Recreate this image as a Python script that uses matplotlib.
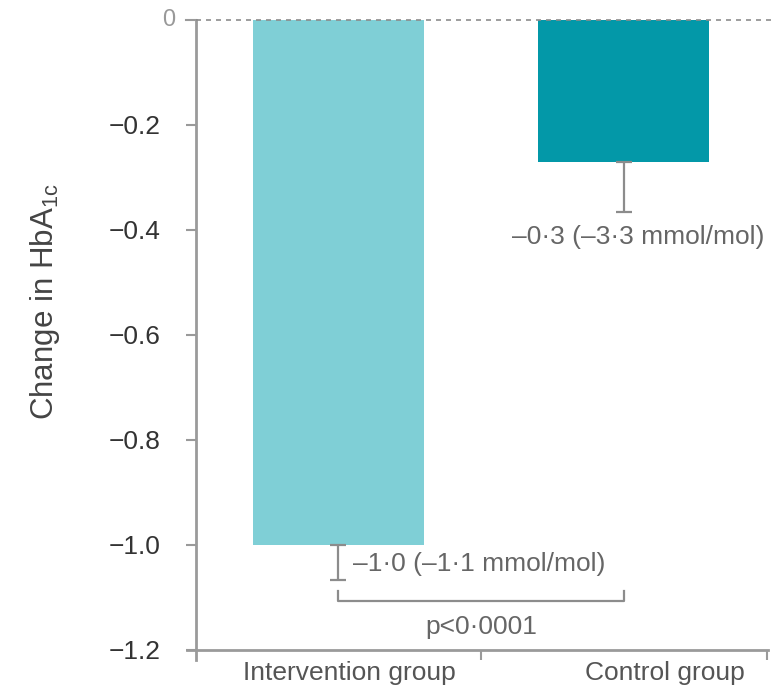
import numpy as np
import matplotlib.pyplot as plt

plt.rcParams.update({
    'font.family': 'Liberation Sans',
    'mathtext.fontset': 'custom',
    'mathtext.rm': 'Liberation Sans',
    'axes.unicode_minus': True,
})

# ---------------------------------------------------------------------------
# Data
# ---------------------------------------------------------------------------
groups     = ['Intervention group', 'Control group']
change     = [-1.0, -0.27]
err_lower  = [0.067, 0.096]
bar_notes  = ['\u20131\u00b70 (\u20131\u00b71 mmol/mol)', '\u20130\u00b73 (\u20133\u00b73 mmol/mol)']
p_label    = 'p<0\u00b70001'
yticks     = [-1.2, -1.0, -0.8, -0.6, -0.4, -0.2]

colours = ['#7fcfd6', '#0398a8']
AXIS_C  = '#9a9a9a'
TEXT_C  = '#666666'

fig = plt.figure(figsize=(7.73, 6.91), dpi=100)
ax = fig.add_axes([187 / 773, 1 - 660 / 691, 581 / 773, 640 / 691])

x = np.arange(len(groups))
ax.bar(x, change, width=0.6, color=colours, zorder=2)
ax.errorbar(x, change, yerr=[err_lower, [0, 0]], fmt='none', ecolor='#8c8c8c',
            elinewidth=1.6, capsize=6, capthick=1.6, zorder=3)

# zero reference line
ax.plot([-0.5, 1.52], [0, 0], ls=(0, (3, 3)), color='#8c8c8c', lw=1.2,
        clip_on=False, zorder=4)

# value notes
ax.text(x[0] + 0.05, change[0] - err_lower[0] / 2 - 0.004, bar_notes[0], ha='left', va='center',
        fontsize=19, color=TEXT_C)
ax.text(x[1] - 0.39, change[1] - err_lower[1] - 0.048, bar_notes[1], ha='left', va='center',
        fontsize=19, color=TEXT_C, clip_on=False)

# significance bracket
yb = -1.107
ax.plot([x[0], x[0], x[1], x[1]], [yb + 0.018, yb, yb, yb + 0.018],
        color='#8c8c8c', lw=1.6, zorder=3)
ax.text((x[0] + x[1]) / 2, yb - 0.05, p_label, ha='center', va='center',
        fontsize=19, color=TEXT_C)

# axes styling
ax.set_xlim(-0.53, 1.505)
ax.set_ylim(-1.22, 0)
for s in ['top', 'right']:
    ax.spines[s].set_visible(False)
ax.spines['left'].set_position(('data', -0.5))
ax.spines['bottom'].set_position(('data', -1.2))
for s in ['left', 'bottom']:
    ax.spines[s].set_color(AXIS_C)
    ax.spines[s].set_linewidth(2)

ax.set_yticks(yticks)
ax.set_yticklabels([f'{v:.1f}'.replace('-', '\u2212') for v in yticks])
ax.tick_params(axis='y', direction='out', length=7, width=1.5, color=AXIS_C,
               labelsize=19, labelcolor='#333333', pad=18)

ax.set_xticks([0.5, 1.5])
ax.set_xticklabels([])
ax.set_xticks([0.04, 1.145], minor=True)
ax.set_xticklabels(groups, minor=True)
ax.tick_params(axis='x', which='major', direction='out', length=7, width=1.5, color=AXIS_C)
ax.tick_params(axis='x', which='minor', length=0, labelsize=19,
               labelcolor='#555555', pad=8)

# top "0" label
ax.plot([-0.535, -0.5], [0, 0], color=AXIS_C, lw=1.5, clip_on=False)
ax.annotate('0', xy=(-0.5, 0), xytext=(-19, 0), textcoords='offset points',
            ha='center', va='center', fontsize=17, color='#999999')

ax.set_ylabel('Change in HbA$\\mathregular{_{1c}}$', fontsize=22.5, color='#444444')
ax.yaxis.set_label_coords(-0.215, 0.56)

plt.savefig('out.png', dpi=100)
plt.close()
